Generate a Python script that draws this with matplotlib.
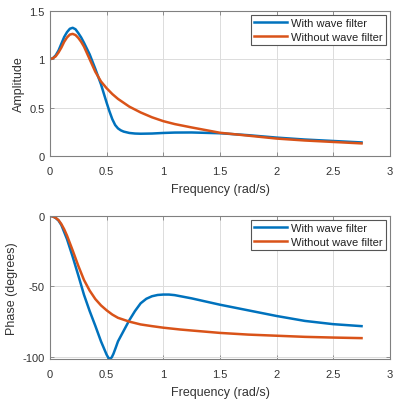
import numpy as np
import matplotlib
matplotlib.use("Agg")
import matplotlib.pyplot as plt

plt.rcParams['font.family'] = ['Liberation Sans', 'DejaVu Sans']
plt.rcParams['axes.unicode_minus'] = False

# amplitude
amp_x = [0, 0.025, 0.05, 0.075, 0.1, 0.125, 0.15, 0.175, 0.2, 0.225, 0.25, 0.275, 0.3,
         0.35, 0.4, 0.45, 0.5, 0.525, 0.55, 0.575, 0.6, 0.625, 0.65, 0.7, 0.75, 0.8,
         0.9, 1.0, 1.1, 1.25, 1.5, 1.75, 2.0, 2.25, 2.5, 2.75]
amp_with = [1.00, 1.01, 1.04, 1.09, 1.16, 1.23, 1.28, 1.315, 1.325, 1.31, 1.27, 1.225, 1.17,
            1.05, 0.90, 0.74, 0.55, 0.46, 0.38, 0.32, 0.285, 0.265, 0.252, 0.238, 0.232, 0.23,
            0.232, 0.238, 0.242, 0.243, 0.235, 0.215, 0.19, 0.17, 0.155, 0.14]
amp_without = [1.00, 1.01, 1.03, 1.07, 1.12, 1.18, 1.225, 1.255, 1.262, 1.25, 1.22, 1.18, 1.13,
               1.00, 0.87, 0.77, 0.70, 0.67, 0.64, 0.615, 0.59, 0.57, 0.55, 0.51, 0.48, 0.45,
               0.40, 0.36, 0.33, 0.295, 0.24, 0.21, 0.18, 0.16, 0.145, 0.13]

# phase
ph_x_with = [0, 0.025, 0.05, 0.075, 0.1, 0.125, 0.15, 0.2, 0.25, 0.3, 0.35, 0.4, 0.45,
             0.5, 0.515, 0.53, 0.545, 0.56, 0.58, 0.6, 0.65, 0.7, 0.75, 0.8, 0.85, 0.9,
             0.95, 1.0, 1.05, 1.1, 1.25, 1.5, 1.75, 2.0, 2.25, 2.5, 2.75]
ph_with = [0, -0.4, -1.5, -3.3, -6.5, -11.5, -16.5, -29, -42.3, -56, -67.5, -78, -89,
           -98.5, -100.6, -101.4, -100.3, -97.8, -93.5, -89, -81.5, -74, -67.5, -62, -58.8, -57,
           -56.1, -55.8, -55.8, -56.2, -58.5, -63, -67, -71, -74.5, -76.8, -78.2]
ph_x_without = [0, 0.025, 0.05, 0.075, 0.1, 0.125, 0.15, 0.2, 0.25, 0.3, 0.35, 0.4, 0.45,
                0.5, 0.55, 0.6, 0.7, 0.8, 0.9, 1.0, 1.15, 1.25, 1.5, 1.75, 2.0, 2.25, 2.5, 2.75]
ph_without = [0, -0.4, -1.4, -3.0, -5.8, -9.5, -14, -24.5, -35.5, -45.5, -53, -59, -63.5,
              -67, -70, -72.3, -75, -77, -78.2, -79.3, -80.6, -81.3, -83, -84.2, -85, -85.8,
              -86.3, -86.7]

blue = '#0072BD'
orange = '#D95319'

fig = plt.figure(figsize=(3.97, 4.02), dpi=100)
ax1 = fig.add_axes([0.126, 0.6095, 0.856, 0.361])
ax2 = fig.add_axes([0.126, 0.1045, 0.856, 0.356])


def style(ax):
    ax.grid(True, color='#dcdcdc', linewidth=0.7)
    ax.set_axisbelow(True)
    for s in ax.spines.values():
        s.set_color('#808080')
        s.set_linewidth(0.8)
    ax.tick_params(direction='in', top=True, right=True, length=3, width=0.6,
                   color='#808080', labelcolor='#333333', labelsize=8, pad=4)
    ax.tick_params(axis='x', pad=7)
    ax.set_xlim(0, 3)
    ax.set_xticks(np.arange(0, 3.01, 0.5))
    ax.set_xticklabels(['0', '0.5', '1', '1.5', '2', '2.5', '3'])
    ax.set_xlabel('Frequency (rad/s)', fontsize=9, color='#333333', labelpad=5)


ax1.plot(amp_x, amp_with, color=blue, lw=1.8, label='With wave filter')
ax1.plot(amp_x, amp_without, color=orange, lw=1.8, label='Without wave filter')
style(ax1)
ax1.set_ylim(0, 1.5)
ax1.set_yticks([0, 0.5, 1, 1.5])
ax1.set_yticklabels(['0', '0.5', '1', '1.5'])
ax1.set_ylabel('Amplitude', fontsize=9, color='#333333', labelpad=3)

ax2.plot(ph_x_with, ph_with, color=blue, lw=1.8, label='With wave filter')
ax2.plot(ph_x_without, ph_without, color=orange, lw=1.8, label='Without wave filter')
style(ax2)
ax2.set_ylim(-101.5, 0)
ax2.set_yticks([-100, -50, 0])
ax2.set_ylabel('Phase (degrees)', fontsize=9, color='#333333', labelpad=3)

for ax in (ax1, ax2):
    leg = ax.legend(loc='upper right', fontsize=8, fancybox=False, framealpha=1,
                    edgecolor='#555555', handlelength=2.9, handletextpad=0.4,
                    borderpad=0.3, labelspacing=0.35, borderaxespad=0.35)
    leg.get_frame().set_linewidth(0.8)
    for t in leg.get_texts():
        t.set_color('#222222')

fig.savefig('out.png', dpi=100)
